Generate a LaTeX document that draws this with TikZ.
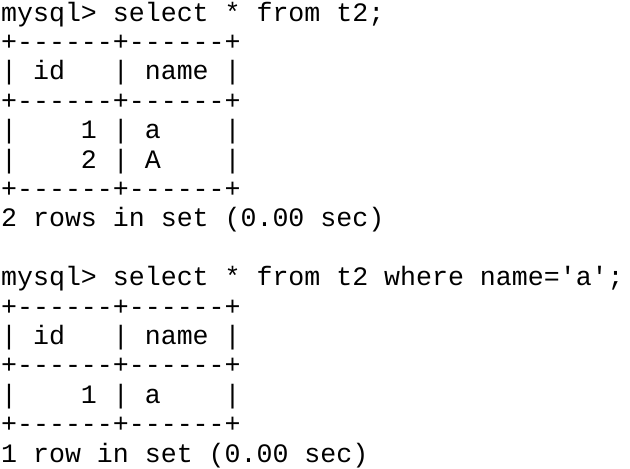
\documentclass[tikz,border=0pt]{standalone}
\usepackage{fontspec}
\setmonofont{Liberation Mono}
\begin{document}
\begin{tikzpicture}[x=1pt,y=1pt,
  ln/.style={anchor=base west,inner sep=0pt,font=\ttfamily\fontsize{26.6}{29}\selectfont}]
\useasboundingbox (0,0) rectangle (630,-469);
\node[ln] (l1) at (1,-21) {mysql>~select~*~from~t2;};
\node[ln] (l2) at (1,-50.4) {+------+------+};
\node[ln] (l3) at (1,-79.8) {|~id~~~|~name~|};
\node[ln] (l4) at (1,-109.2) {+------+------+};
\node[ln] (l5) at (1,-138.6) {|~~~~1~|~a~~~~|};
\node[ln] (l6) at (1,-168) {|~~~~2~|~A~~~~|};
\node[ln] (l7) at (1,-197.4) {+------+------+};
\node[ln] (l8) at (1,-226.8) {2~rows~in~set~(0.00~sec)};
\node[ln] (l10) at (1,-285.6) {mysql>~select~*~from~t2~where~name='a';};
\node[ln] (l11) at (1,-315) {+------+------+};
\node[ln] (l12) at (1,-344.4) {|~id~~~|~name~|};
\node[ln] (l13) at (1,-373.8) {+------+------+};
\node[ln] (l14) at (1,-403.2) {|~~~~1~|~a~~~~|};
\node[ln] (l15) at (1,-432.6) {+------+------+};
\node[ln] (l16) at (1,-462) {1~row~in~set~(0.00~sec)};
\end{tikzpicture}
\end{document}
